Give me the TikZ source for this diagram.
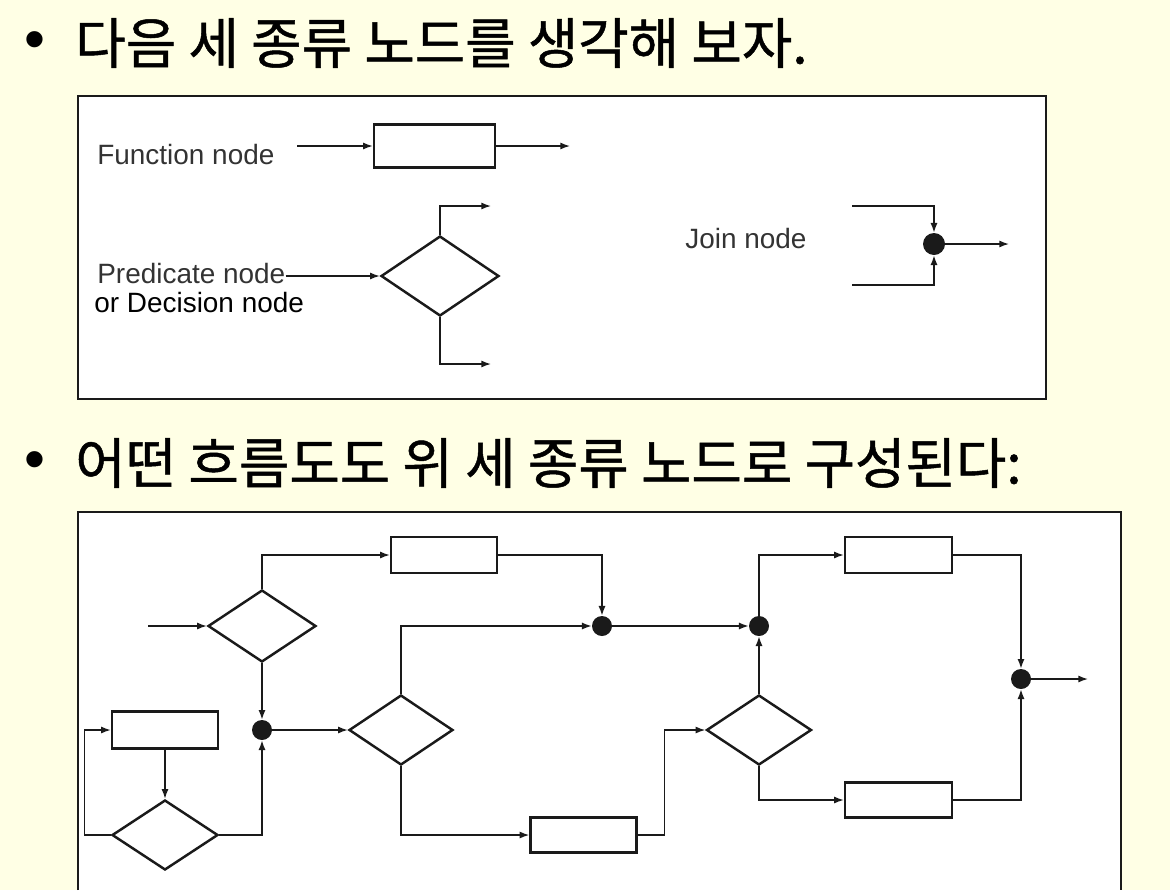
\documentclass[tikz,border=0pt]{standalone}
\usepackage{fontspec}
\setmainfont{Liberation Sans}
\newfontfamily\krfont[FakeBold=0.9]{Noto Sans CJK KR}
\usepackage{tikz}
\usetikzlibrary{arrows.meta,shapes.geometric}
\usepackage{xcolor}
\definecolor{paper}{HTML}{FFFFE5}
\definecolor{ink}{HTML}{1A1A1A}

\begin{document}
\begin{tikzpicture}[x=0.02cm, y=-0.02cm,
  fnbox/.style={draw=ink, line width=1.4pt, fill=white, inner sep=0pt, minimum width=2.12cm, minimum height=0.72cm},
  decision/.style={diamond, draw=ink, line width=1.4pt, fill=white, inner sep=0pt, minimum width=2.12cm, minimum height=1.4cm},
  joindot/.style={circle, fill=ink, inner sep=0pt, minimum size=0.4cm},
  conn/.style={draw=ink, line width=0.8pt, -{Latex[length=5.5pt,width=4pt]}},
  frame/.style={draw=ink, line width=1pt},
  label/.style={inner sep=0pt, text=black!80, font=\fontsize{15.9pt}{18pt}\selectfont},
  heading/.style={inner sep=0pt, anchor=west, font=\krfont\fontsize{31.2pt}{36pt}\selectfont},
  bullet/.style={inner sep=0pt, font=\fontsize{34pt}{36pt}\selectfont}
]
  \fill[paper] (0,0) rectangle (1170,890);
  \useasboundingbox (0,0) rectangle (1170,890);

  % headings
  \node[bullet] (b1) at (35,46) {•};
  \node[heading] (h1) at (75,43) {다음 세 종류 노드를 생각해 보자.};
  \node[bullet] (b2) at (35,466) {•};
  \node[heading] (h2) at (75,463) {어떤 흐름도도 위 세 종류 노드로 구성된다:};

  % the three kinds of node
  \filldraw[frame, fill=white] (78,96) rectangle (1046,399);

  \node[label, anchor=base west] (fnlabel) at (97,164) {Function node};
  \coordinate (fin) at (297,146);
  \node[fnbox, minimum width=2.42cm, minimum height=0.86cm] (fn) at (434.5,146) {};
  \coordinate (fout) at (570,146);
  \draw[conn] (fin) -- (fn);
  \draw[conn] (fn) -- (fout);

  \node[label, anchor=base west] (predlabel) at (97,283) {Predicate node};
  \node[inner sep=0pt, anchor=base west, font=\fontsize{15.9pt}{18pt}\selectfont] (declabel) at (94,312) {or Decision node};
  \node[decision, minimum width=2.36cm, minimum height=1.6cm] (pred) at (440,276) {};
  \coordinate (ptop) at (491,206);
  \coordinate (pbot) at (491,364);
  \draw[conn] (predlabel.east |- pred.west) -- (pred.west);
  \draw[conn] (pred.north) |- (ptop);
  \draw[conn] (pred.south) |- (pbot);

  \node[label, anchor=base west] (joinlabel) at (685,248) {Join node};
  \node[joindot, minimum size=0.44cm] (jn) at (934,244) {};
  \coordinate (jin1) at (852,206);
  \coordinate (jin2) at (852,285);
  \coordinate (jout) at (1009,244);
  \draw[conn] (jin1) -| (jn);
  \draw[conn] (jin2) -| (jn);
  \draw[conn] (jn) -- (jout);

  % a flow graph built from them
  \fill[white] (78,512) rectangle (1121,890);
  \draw[frame] (78,890) |- (1121,512) -- (1121,890);

  \coordinate (in) at (148,626);
  \node[decision, minimum width=2.16cm, minimum height=1.44cm] (d1) at (262,626) {};
  \node[fnbox] (f1) at (444,555) {};
  \node[joindot] (j1) at (602,626) {};
  \node[joindot] (j2) at (262,730) {};
  \node[fnbox, minimum height=0.74cm] (f2) at (165,730) {};
  \node[decision] (d2) at (165,835) {};
  \node[decision, minimum width=2.08cm] (d3) at (401,730) {};
  \node[fnbox, minimum height=0.7cm] (f3) at (583.5,835) {};
  \node[joindot] (j3) at (759,626) {};
  \node[fnbox, minimum width=2.14cm] (f4) at (898.5,555) {};
  \node[decision, minimum width=2.1cm] (d4) at (759,730) {};
  \node[fnbox, minimum width=2.14cm, minimum height=0.7cm] (f5) at (898.5,800) {};
  \node[joindot] (j4) at (1021,679) {};
  \coordinate (out) at (1088,679);

  \draw[conn] (in) -- (d1);
  \draw[conn] (d1.north) |- (f1);
  \draw[conn] (f1) -| (j1);
  \draw[conn] (d1) -- (j2);
  \draw[conn] (f2) -- (d2);
  \draw[conn] (d2.west) -- ++(-26,0) |- (f2.west);
  \draw[conn] (d2) -| (j2);
  \draw[conn] (j2) -- (d3);
  \draw[conn] (d3.north) |- (j1);
  \draw[conn] (d3.south) |- (f3);
  \draw[conn] (j1) -- (j3);
  \draw[conn] (j3) |- (f4);
  \draw[conn] (f4) -| (j4);
  \draw[conn] (j4) -- (out);
  \draw[conn] (f3.east) -- ++(27,0) |- (d4.west);
  \draw[conn] (d4.north) -- (j3);
  \draw[conn] (d4.south) |- (f5);
  \draw[conn] (f5) -| (j4);
\end{tikzpicture}
\end{document}
